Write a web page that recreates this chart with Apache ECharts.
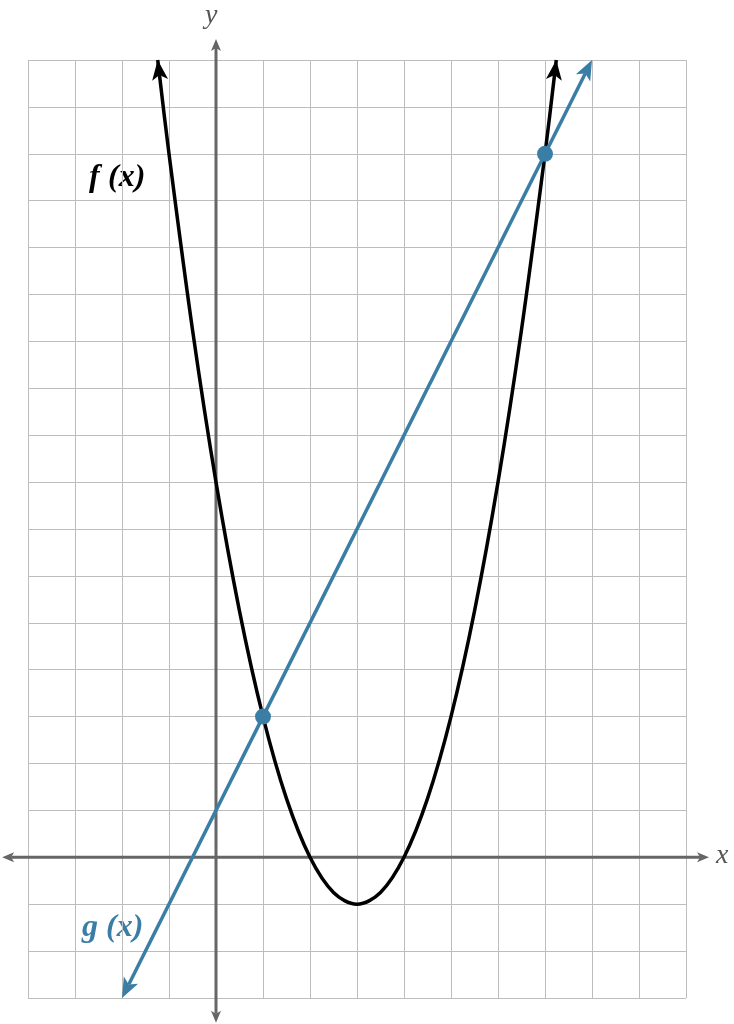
<!DOCTYPE html>
<html><head><meta charset="utf-8">
<script src="https://cdn.jsdelivr.net/npm/echarts@6/dist/echarts.min.js"></script>
<style>html,body{margin:0;padding:0;background:#fff}#c{width:734px;height:1024px}</style>
</head><body><div id="c"></div>
<script>
// ---- data ----
const xRange = [-4, 10];
const yRange = [-3, 17];
// f(x): parabola with vertex (3,-1)
const fX = [-1.24, -1, -0.5, 0, 0.5, 1, 1.5, 2, 2.5, 3, 3.5, 4, 4.5, 5, 5.5, 6, 6.5, 7, 7.24];
const fY = [17, 15, 11.25, 8, 5.25, 3, 1.25, 0, -0.75, -1, -0.75, 0, 1.25, 3, 5.25, 8, 11.25, 15, 17];
// g(x): straight line, ends with arrows
const gX = [-2, 1, 8];
const gY = [-3, 3, 17];
// intersection points
const ptX = [1, 7];
const ptY = [3, 15];
// axis extents (beyond the grid)
const axisXExt = [-4.55, 10.49];
const axisYExt = [-3.53, 17.45];

const BLUE = '#3a7ea6', BLACK = '#000', AXIS = '#666', GRID = '#bdbdbd';

function zip(a, b) { return a.map((v, i) => [v, b[i]]); }

function arrowRender(color, lineW, len, wid, notch, drawShaft) {
  return function (params, api) {
    const from = api.coord([api.value(0), api.value(1)]);
    const tip = api.coord([api.value(2), api.value(3)]);
    let dx = tip[0] - from[0], dy = tip[1] - from[1];
    const L = Math.hypot(dx, dy); dx /= L; dy /= L;
    const px = -dy, py = dx;
    const bx = tip[0] - dx * len, by = tip[1] - dy * len;
    const nx = tip[0] - dx * len * notch, ny = tip[1] - dy * len * notch;
    const children = [];
    if (drawShaft) children.push({ type: 'line', shape: { x1: from[0], y1: from[1], x2: nx, y2: ny }, style: { stroke: color, lineWidth: lineW } });
    children.push({ type: 'polygon', shape: { points: [tip, [bx + px * wid / 2, by + py * wid / 2], [nx, ny], [bx - px * wid / 2, by - py * wid / 2]] }, style: { fill: color } });
    return { type: 'group', children };
  };
}

// arrow specs: [fromX, fromY, tipX, tipY]
const axisArrows = [
  [3, 0, axisXExt[1], 0], [3, 0, axisXExt[0], 0],
  [0, 7, 0, axisYExt[1]], [0, 7, 0, axisYExt[0]]
];
const fArrows = [
  [fX[1], fY[1], fX[0], fY[0]],
  [fX[fX.length - 2], fY[fY.length - 2], fX[fX.length - 1], fY[fY.length - 1]]
];
const gArrows = [
  [gX[1], gY[1], gX[0], gY[0]],
  [gX[1], gY[1], gX[2], gY[2]]
];

const serif = '"Liberation Serif", "DejaVu Serif", serif';
const lblStyle = (text, fill) => ({ text, fontFamily: serif, fontStyle: 'italic', fontWeight: 'bold', fontSize: 32, fill });

const chart = echarts.init(document.getElementById('c'));
chart.setOption({
  animation: false,
  backgroundColor: '#fff',
  grid: { left: 28, right: 48, top: 60, bottom: 26 },
  xAxis: {
    type: 'value', min: xRange[0], max: xRange[1], interval: 1,
    axisLine: { show: false }, axisTick: { show: false }, axisLabel: { show: false },
    splitLine: { show: true, lineStyle: { color: GRID, width: 1 } }
  },
  yAxis: {
    type: 'value', min: yRange[0], max: yRange[1], interval: 1,
    axisLine: { show: false }, axisTick: { show: false }, axisLabel: { show: false },
    splitLine: { show: true, lineStyle: { color: GRID, width: 1 } }
  },
  series: [
    { type: 'custom', name: 'axes', data: axisArrows, clip: false, z: 2, silent: true,
      renderItem: arrowRender(AXIS, 3, 12, 10, 0.75, true) },
    { type: 'line', name: 'f', data: zip(fX, fY), smooth: 0.34, showSymbol: false, symbol: 'none', clip: false, z: 3,
      lineStyle: { color: BLACK, width: 3.5 } },
    { type: 'custom', name: 'fArrows', data: fArrows, clip: false, z: 4, silent: true,
      renderItem: arrowRender(BLACK, 3.5, 20, 16, 0.75, false) },
    { type: 'custom', name: 'g', data: gArrows, clip: false, z: 5, silent: true,
      renderItem: arrowRender(BLUE, 3.5, 20, 16, 0.75, true) },
    { type: 'scatter', name: 'points', data: zip(ptX, ptY), symbol: 'circle', symbolSize: 16, z: 6,
      itemStyle: { color: BLUE, opacity: 1 } }
  ],
  graphic: [
    { type: 'text', left: 89, top: 162, style: lblStyle('f', BLACK) },
    { type: 'text', left: 108, top: 162, style: lblStyle('(x)', BLACK) },
    { type: 'text', left: 82, top: 912, style: lblStyle('g', BLUE) },
    { type: 'text', left: 106, top: 912, style: lblStyle('(x)', BLUE) },
    { type: 'text', left: 716, top: 842, style: { text: 'x', fontFamily: serif, fontStyle: 'italic', fontSize: 28, fill: '#555' } },
    { type: 'text', left: 205, top: 2, style: { text: 'y', fontFamily: serif, fontStyle: 'italic', fontSize: 28, fill: '#555' } }
  ]
});
</script>
</body></html>
